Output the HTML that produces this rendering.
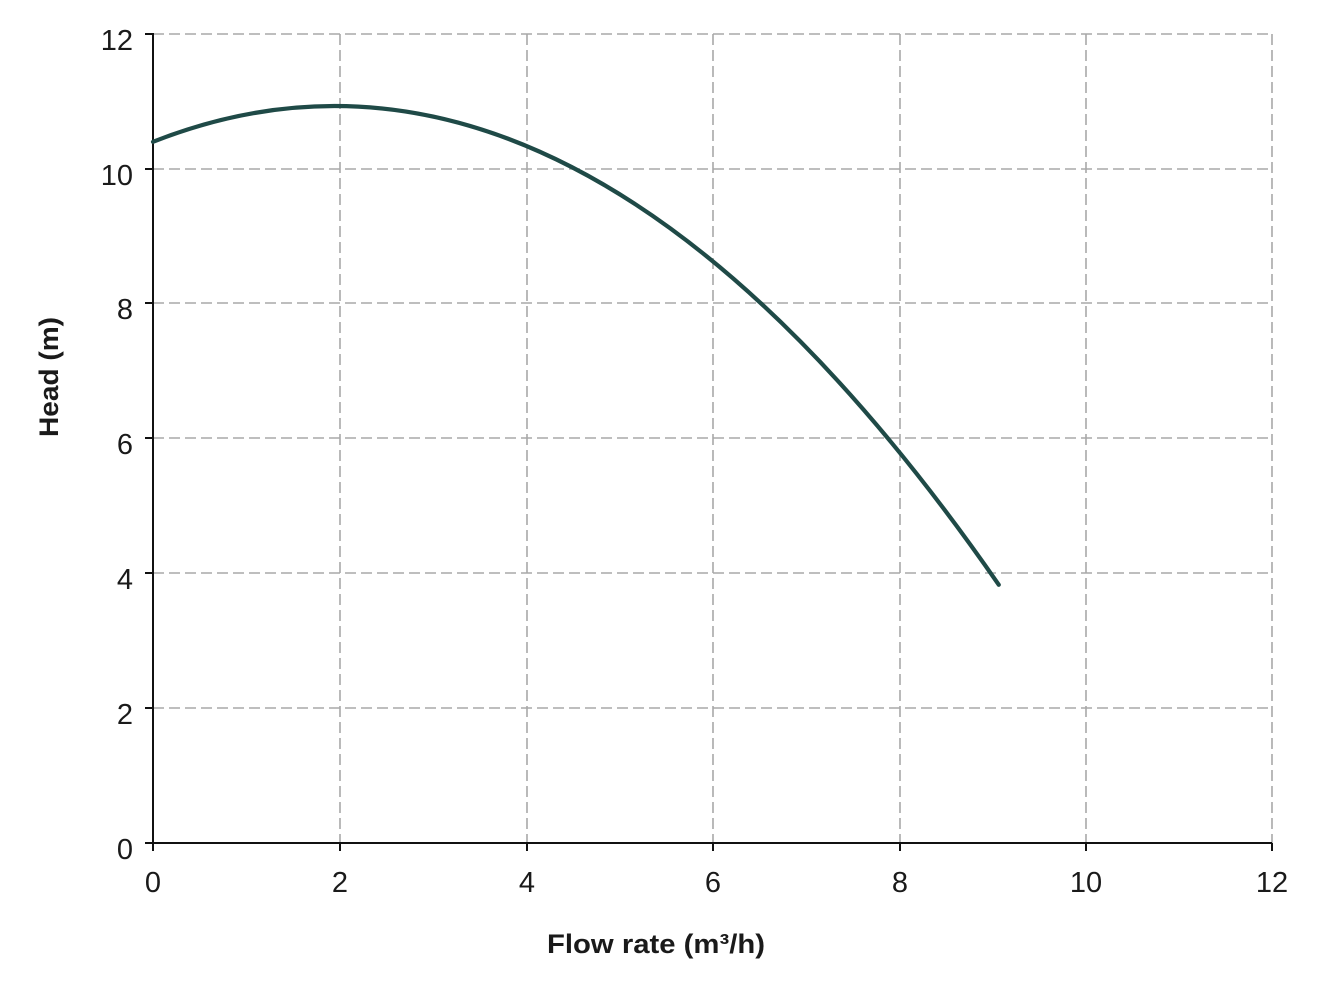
<!DOCTYPE html>
<html>
<head>
<meta charset="utf-8">
<style>
  html, body { margin: 0; padding: 0; background: #ffffff; }
  svg { display: block; }
  text { font-family: "Liberation Sans", Arial, sans-serif; fill: #1a1a1a; }
</style>
</head>
<body>
<svg width="1326" height="1000" viewBox="0 0 1326 1000" xmlns="http://www.w3.org/2000/svg">
  <rect x="0" y="0" width="1326" height="1000" fill="#ffffff"/>
  <!-- grid -->
  <g stroke="#a8a8a8" stroke-width="1.6" stroke-dasharray="11,5" fill="none">
    <line x1="153" y1="34" x2="1272" y2="34"/>
    <line x1="153" y1="169" x2="1272" y2="169"/>
    <line x1="153" y1="303" x2="1272" y2="303"/>
    <line x1="153" y1="438" x2="1272" y2="438"/>
    <line x1="153" y1="573" x2="1272" y2="573"/>
    <line x1="153" y1="708" x2="1272" y2="708"/>
    <line x1="340" y1="34" x2="340" y2="843"/>
    <line x1="527" y1="34" x2="527" y2="843"/>
    <line x1="713" y1="34" x2="713" y2="843"/>
    <line x1="900" y1="34" x2="900" y2="843"/>
    <line x1="1086" y1="34" x2="1086" y2="843"/>
    <line x1="1272" y1="34" x2="1272" y2="843"/>
  </g>
  <!-- axes -->
  <g stroke="#111" stroke-width="2" fill="none">
    <line x1="153" y1="33" x2="153" y2="844"/>
    <line x1="152" y1="843" x2="1272" y2="843"/>
    <!-- y ticks -->
    <line x1="145" y1="34" x2="153" y2="34"/>
    <line x1="145" y1="169" x2="153" y2="169"/>
    <line x1="145" y1="303" x2="153" y2="303"/>
    <line x1="145" y1="438" x2="153" y2="438"/>
    <line x1="145" y1="573" x2="153" y2="573"/>
    <line x1="145" y1="708" x2="153" y2="708"/>
    <line x1="145" y1="843" x2="153" y2="843"/>
    <!-- x ticks -->
    <line x1="153" y1="843" x2="153" y2="851"/>
    <line x1="340" y1="843" x2="340" y2="851"/>
    <line x1="527" y1="843" x2="527" y2="851"/>
    <line x1="713" y1="843" x2="713" y2="851"/>
    <line x1="900" y1="843" x2="900" y2="851"/>
    <line x1="1086" y1="843" x2="1086" y2="851"/>
    <line x1="1272" y1="843" x2="1272" y2="851"/>
  </g>
  <!-- y tick labels -->
  <g font-size="29" text-anchor="end">
    <text x="133" y="50">12</text>
    <text x="133" y="185">10</text>
    <text x="133" y="319">8</text>
    <text x="133" y="454">6</text>
    <text x="133" y="589">4</text>
    <text x="133" y="724">2</text>
    <text x="133" y="859">0</text>
  </g>
  <!-- x tick labels -->
  <g font-size="29" text-anchor="middle">
    <text x="153" y="892">0</text>
    <text x="340" y="892">2</text>
    <text x="527" y="892">4</text>
    <text x="713" y="892">6</text>
    <text x="900" y="892">8</text>
    <text x="1086" y="892">10</text>
    <text x="1272" y="892">12</text>
  </g>
  <!-- axis titles -->
  <text x="656" y="953" font-size="27" font-weight="bold" text-anchor="middle" textLength="218" lengthAdjust="spacingAndGlyphs" fill="#222">Flow rate (m³/h)</text>
  <text transform="translate(58,377) rotate(-90)" x="0" y="0" font-size="27" font-weight="bold" text-anchor="middle" textLength="120" lengthAdjust="spacingAndGlyphs" fill="#222">Head (m)</text>
  <!-- curve -->
  <path d="M153,141.8 Q575.9,-24.8 998.8,584.8" fill="none" stroke="#1f4a47" stroke-width="4.2" stroke-linecap="round"/>
</svg>
</body>
</html>
